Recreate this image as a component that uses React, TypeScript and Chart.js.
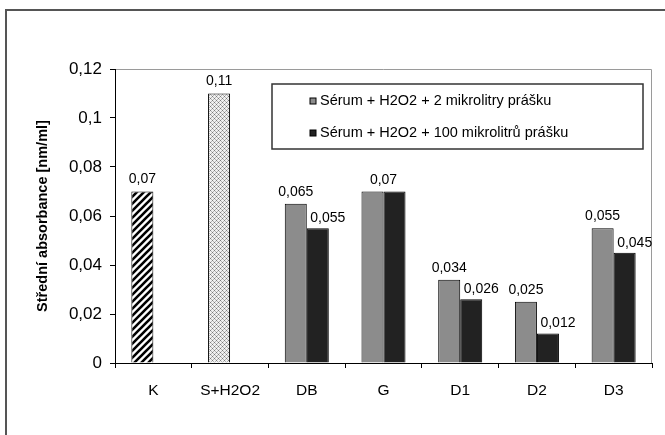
import React, { useEffect, useRef } from "react";
import { Chart, registerables } from "chart.js";

Chart.register(...registerables);

const categories = ["K", "S+H2O2", "DB", "G", "D1", "D2", "D3"];
const series1 = [0.07, 0.11, 0.065, 0.07, 0.034, 0.025, 0.055];
const series2 = [null, null, 0.055, 0.07, 0.026, 0.012, 0.045];
const seriesLabels = [
  "Sérum + H2O2 + 2 mikrolitry prášku",
  "Sérum + H2O2 + 100 mikrolitrů prášku",
];
const yMin = 0;
const yMax = 0.12;
const yStep = 0.02;
const yTitle = "Střední absorbance [nm/ml]";

const GRAY = "#8c8c8c";
const BLACK = "#222222";
const FONT = "'Liberation Sans', Arial, sans-serif";

const fmt = (v: number) => String(parseFloat(v.toFixed(3))).replace(".", ",");

function makeHatch(): CanvasPattern | string {
  const c = document.createElement("canvas");
  c.width = 7;
  c.height = 7;
  const g = c.getContext("2d")!;
  g.fillStyle = "#ffffff";
  g.fillRect(0, 0, 7, 7);
  g.strokeStyle = "#000000";
  g.lineWidth = 2.6;
  g.beginPath();
  g.moveTo(-1, 8);
  g.lineTo(8, -1);
  g.moveTo(-5, 5);
  g.lineTo(5, -5);
  g.moveTo(2, 12);
  g.lineTo(12, 2);
  g.stroke();
  const p = g.createPattern(c, "repeat");
  return p || "#777";
}

function makeCross(): CanvasPattern | string {
  const c = document.createElement("canvas");
  c.width = 4;
  c.height = 4;
  const g = c.getContext("2d")!;
  g.fillStyle = "#f0f0f0";
  g.fillRect(0, 0, 4, 4);
  g.fillStyle = "#7a7a7a";
  g.fillRect(0, 0, 1, 1);
  g.fillRect(2, 2, 1, 1);
  g.fillStyle = "#b4b4b4";
  g.fillRect(1, 1, 1, 1);
  g.fillRect(3, 3, 1, 1);
  g.fillRect(3, 1, 1, 1);
  g.fillRect(1, 3, 1, 1);
  const p = g.createPattern(c, "repeat");
  return p || "#ddd";
}

const framePlugin = {
  id: "frame",
  beforeDraw(chart: any) {
    const { ctx, chartArea } = chart;
    ctx.save();
    ctx.fillStyle = "#ffffff";
    ctx.fillRect(0, 0, chart.width, chart.height);
    ctx.strokeStyle = "#555555";
    ctx.lineWidth = 2;
    ctx.beginPath();
    ctx.moveTo(6, chart.height);
    ctx.lineTo(6, 10);
    ctx.lineTo(chart.width, 10);
    ctx.stroke();
    ctx.strokeStyle = "#9a9a9a";
    ctx.lineWidth = 1;
    ctx.beginPath();
    ctx.moveTo(chartArea.left, chartArea.top + 0.5);
    ctx.lineTo(chartArea.right - 0.5, chartArea.top + 0.5);
    ctx.lineTo(chartArea.right - 0.5, chartArea.bottom);
    ctx.stroke();
    ctx.restore();
  },
};

const labelsPlugin = {
  id: "valueLabels",
  afterDatasetsDraw(chart: any) {
    const { ctx } = chart;
    ctx.save();
    ctx.font = `14px ${FONT}`;
    ctx.fillStyle = "#000000";
    ctx.textAlign = "center";
    ctx.textBaseline = "bottom";
    const m0 = chart.getDatasetMeta(0);
    const m1 = chart.getDatasetMeta(1);
    categories.forEach((_, i) => {
      const v0 = series1[i];
      const v1 = series2[i];
      const b0 = m0.data[i];
      const b1 = m1.data[i];
      if (v0 != null && v1 != null && v0 === v1) {
        ctx.fillText(fmt(v0), (b0.x + b1.x) / 2, b0.y - 4);
        return;
      }
      if (v0 != null) ctx.fillText(fmt(v0), b0.x, b0.y - 5);
      if (v1 != null) ctx.fillText(fmt(v1), b1.x + 10, b1.y - 3);
    });
    ctx.restore();
  },
};

const legendPlugin = {
  id: "boxLegend",
  afterDraw(chart: any) {
    const { ctx, chartArea } = chart;
    const x = chartArea.left + 157;
    const y = chartArea.top + 15;
    const w = 371;
    const h = 65;
    ctx.save();
    ctx.fillStyle = "#ffffff";
    ctx.fillRect(x, y, w, h);
    ctx.strokeStyle = "#333333";
    ctx.lineWidth = 1.5;
    ctx.strokeRect(x, y, w, h);
    const colors = [GRAY, BLACK];
    ctx.font = `14.5px ${FONT}`;
    ctx.textBaseline = "middle";
    ctx.textAlign = "left";
    seriesLabels.forEach((lab, i) => {
      const cy = y + 17 + i * 32;
      ctx.fillStyle = colors[i];
      ctx.fillRect(x + 38, cy - 3, 6, 6);
      ctx.strokeStyle = "#000";
      ctx.lineWidth = 1;
      ctx.strokeRect(x + 38, cy - 3, 6, 6);
      ctx.fillStyle = "#000";
      ctx.fillText(lab, x + 48, cy);
    });
    ctx.restore();
  },
};

export default function App() {
  const ref = useRef<HTMLCanvasElement | null>(null);
  useEffect(() => {
    if (!ref.current) return;
    const hatch = makeHatch();
    const cross = makeCross();
    const bg1 = series1.map((_, i) => (i === 0 ? hatch : i === 1 ? cross : GRAY));
    const chart = new Chart(ref.current, {
      type: "bar",
      data: {
        labels: categories,
        datasets: [
          {
            label: seriesLabels[0],
            data: series1,
            backgroundColor: bg1 as any,
            borderColor: "#000",
            borderWidth: 1,
            categoryPercentage: 0.574,
            barPercentage: 1,
          },
          {
            label: seriesLabels[1],
            data: series2 as any,
            backgroundColor: BLACK,
            borderColor: "#000",
            borderWidth: 1,
            categoryPercentage: 0.574,
            barPercentage: 1,
          },
        ],
      },
      options: {
        animation: false,
        responsive: false,
        devicePixelRatio: 1,
        layout: { padding: { left: 6, top: 69, right: 13, bottom: 32 } },
        plugins: {
          legend: { display: false },
          tooltip: { enabled: false },
        },
        scales: {
          x: {
            afterFit: (s: any) => {
              s.height = 40;
            },
            grid: {
              offset: true,
              drawOnChartArea: false,
              drawTicks: true,
              tickLength: 5,
              color: "#000",
            },
            border: { color: "#000", width: 1 },
            ticks: {
              color: "#000",
              padding: 13,
              font: { family: FONT, size: 15.5 },
            },
          },
          y: {
            min: yMin,
            max: yMax,
            afterFit: (s: any) => {
              s.width = 109;
            },
            grid: {
              drawOnChartArea: false,
              drawTicks: true,
              tickLength: 5,
              color: "#000",
            },
            border: { color: "#000", width: 1 },
            ticks: {
              stepSize: yStep,
              color: "#000",
              padding: 8,
              font: { family: FONT, size: 17 },
              callback: (v: any) => fmt(Number(v)),
            },
            title: {
              display: true,
              text: yTitle,
              color: "#000",
              font: { family: FONT, size: 14.5, weight: "bold" },
              padding: { top: 28, bottom: 0 },
            },
          },
        },
      },
      plugins: [framePlugin, labelsPlugin, legendPlugin],
    });
    return () => chart.destroy();
  }, []);
  return (
    <div style={{ position: "fixed", left: 0, top: 0, width: 665, height: 435 }}>
      <canvas ref={ref} width={665} height={435} style={{ width: 665, height: 435, display: "block" }} />
    </div>
  );
}
